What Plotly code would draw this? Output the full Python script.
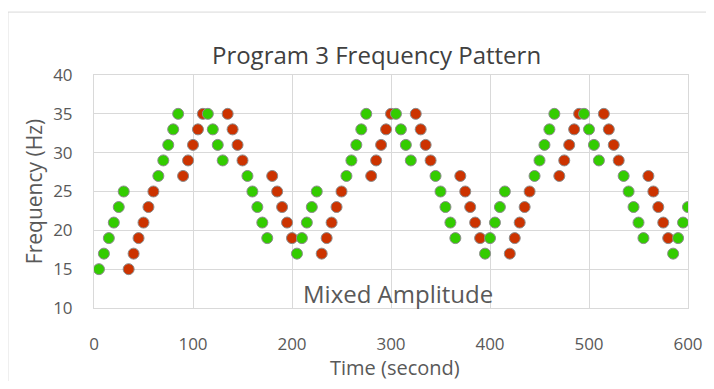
import plotly.graph_objects as go

# Series (time in s, frequency in Hz)
red_x = [35, 40, 45, 50, 55, 60, 90, 95, 100, 105, 110, 135, 140, 145, 150,
         180, 185, 190, 195, 200, 230, 235, 240, 245, 250, 280, 285, 290, 295, 300,
         325, 330, 335, 340, 370, 375, 380, 385, 390, 420, 425, 430, 435, 440,
         470, 475, 480, 485, 490, 515, 520, 525, 530, 560, 565, 570, 575, 580]
red_y = [15, 17, 19, 21, 23, 25, 27, 29, 31, 33, 35, 35, 33, 31, 29,
         27, 25, 23, 21, 19, 17, 19, 21, 23, 25, 27, 29, 31, 33, 35,
         35, 33, 31, 29, 27, 25, 23, 21, 19, 17, 19, 21, 23, 25,
         27, 29, 31, 33, 35, 35, 33, 31, 29, 27, 25, 23, 21, 19]

green_x = [5, 10, 15, 20, 25, 30, 65, 70, 75, 80, 85, 115, 120, 125, 130,
           155, 160, 165, 170, 175, 205, 210, 215, 220, 225, 255, 260, 265, 270, 275,
           305, 310, 315, 320, 345, 350, 355, 360, 365, 395, 400, 405, 410, 415,
           445, 450, 455, 460, 465, 495, 500, 505, 510, 535, 540, 545, 550, 555,
           585, 590, 595, 600]
green_y = [15, 17, 19, 21, 23, 25, 27, 29, 31, 33, 35, 35, 33, 31, 29,
           27, 25, 23, 21, 19, 17, 19, 21, 23, 25, 27, 29, 31, 33, 35,
           35, 33, 31, 29, 27, 25, 23, 21, 19, 17, 19, 21, 23, 25,
           27, 29, 31, 33, 35, 35, 33, 31, 29, 27, 25, 23, 21, 19,
           17, 19, 21, 23]

FONT = "Open Sans"
GREY = "#595959"
GRID = "#d9d9d9"

fig = go.Figure()

# red first so the green dots sit on top where they overlap
fig.add_trace(go.Scatter(
    x=red_x, y=red_y, mode="markers", name="Red",
    marker=dict(size=11, color="#cc3300", line=dict(color="#8c8c8c", width=1)),
))
fig.add_trace(go.Scatter(
    x=green_x, y=green_y, mode="markers", name="Green",
    marker=dict(size=11, color="#33cc00", line=dict(color="#8c8c8c", width=1)),
))

# page body adds 8px all round, so the figure is 16px smaller than the window
fig.update_layout(
    width=698, height=373,
    margin=dict(l=86, r=18, t=67, b=73),
    paper_bgcolor="white", plot_bgcolor="white",
    showlegend=False,
    font=dict(family=FONT, color=GREY),
    title=dict(text="Program 3 Frequency Pattern", x=0.528, xanchor="center",
               y=0.872, yanchor="middle",
               font=dict(family=FONT, size=24, color="#404040")),
    annotations=[
        dict(x=307, y=11.9, xref="x", yref="y", text="Mixed Amplitude",
             showarrow=False, font=dict(family=FONT, size=24, color=GREY)),
        # x-axis title as an annotation so it can sit lower than the margin allows
        dict(x=0.507, y=-0.257, xref="paper", yref="paper", text="Time (second)",
             xanchor="center", yanchor="middle", showarrow=False,
             font=dict(family=FONT, size=20, color=GREY)),
    ],
    shapes=[dict(type="rect", xref="paper", yref="paper",
                 x0=-0.1449, x1=1.06, y0=-0.4, y1=1.27,
                 line=dict(color=GRID, width=1), layer="below")],
)

fig.update_xaxes(
    range=[0, 600], dtick=100, showgrid=True, gridcolor=GRID, gridwidth=1,
    zeroline=False, showline=True, linecolor=GRID, mirror=True, automargin=False,
    ticks="outside", ticklen=21, tickcolor="rgba(0,0,0,0)",
    tickfont=dict(size=17, color=GREY),
)
fig.update_yaxes(
    range=[10, 40], dtick=5, showgrid=True, gridcolor=GRID, gridwidth=1,
    zeroline=False, showline=True, linecolor=GRID, mirror=True, automargin=False,
    ticks="outside", ticklen=17, tickcolor="rgba(0,0,0,0)",
    tickfont=dict(size=17, color=GREY),
    title=dict(text="Frequency (Hz)", font=dict(size=21, color=GREY), standoff=4),
)

fig.write_html("out.html")
